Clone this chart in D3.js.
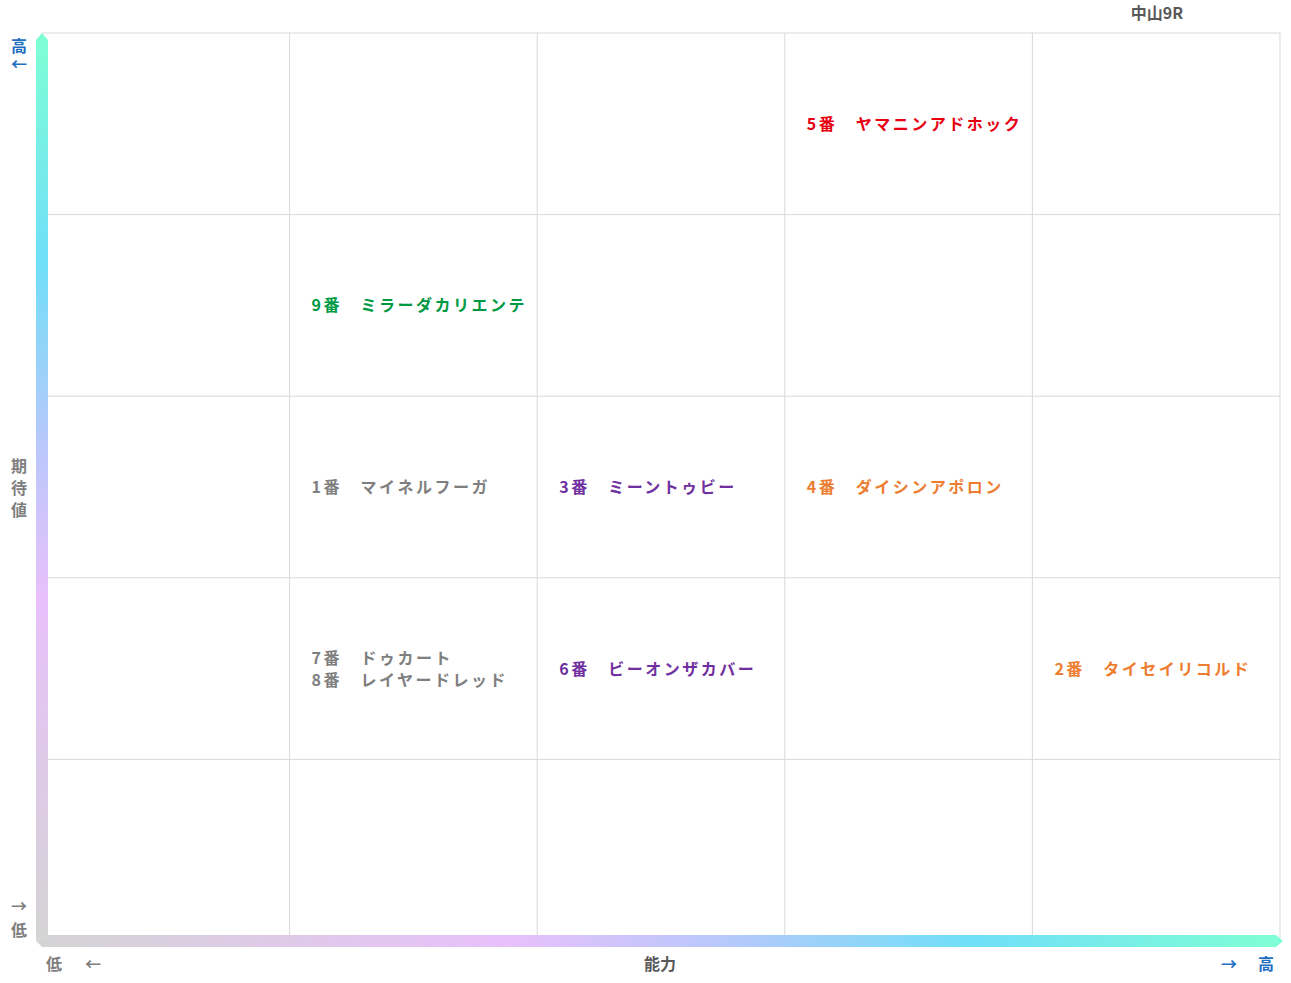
<!DOCTYPE html>
<html><head><meta charset="utf-8">
<script src="https://cdn.jsdelivr.net/npm/d3@7"></script>
<style>body{margin:0;background:#fff;font-family:"Noto Sans CJK JP",sans-serif;}</style>
</head><body><div id="app"></div>
<script>
var cols = [0,1,2,3,4]
    rows = [0,1,2,2,4]
    horses = ['5番　ヤマニンアドホック','9番　ミラーダカリエンテ','1番　マイネルフーガ','3番　ミーントゥビー','4番　ダイシンアポロン','7番　ドゥカート','8番　レイヤードレッド','6番　ビーオンザカバー','2番　タイセイリコルド']
    horseCol = [3,1,1,2,3,1,1,2,4]
    horseRow = [0,1,2,2,2,3,3,3,3]
    horseLine = [0,0,0,0,0,-0.5,0.5,0,0]
    horseColor = ['#e60012','#009944','#7f7f7f','#7030a0','#ed7d31','#7f7f7f','#7f7f7f','#7030a0','#ed7d31'];
rows = [0,1,2,3,4];

var svg = d3.select('#app').append('svg').attr('width',1291).attr('height',983);
var x = d3.scaleBand().domain(cols).range([42,1280]);
var y = d3.scaleBand().domain(rows).range([33,941]);

var defs = svg.append('defs');
var vg = defs.append('linearGradient').attr('id','vg').attr('x1',0).attr('y1',0).attr('x2',0).attr('y2',1);
[['0%','#7fffd4'],['25%','#6fdff8'],['45%','#b8c8fb'],['62%','#e8c0fb'],['100%','#d4d4d4']].forEach(function(s){vg.append('stop').attr('offset',s[0]).attr('stop-color',s[1]);});
var hg = defs.append('linearGradient').attr('id','hg');
[['0%','#d4d4d4'],['38%','#e8c0fb'],['55%','#b8c8fb'],['75%','#6fdff8'],['100%','#7fffd4']].forEach(function(s){hg.append('stop').attr('offset',s[0]).attr('stop-color',s[1]);});

// grid
svg.append('rect').attr('x',42).attr('y',33).attr('width',1238).attr('height',908).attr('fill','none').attr('stroke','#d9d9d9');
cols.slice(1).forEach(function(c){svg.append('line').attr('x1',x(c)).attr('x2',x(c)).attr('y1',33).attr('y2',941).attr('stroke','#d9d9d9');});
rows.slice(1).forEach(function(r){svg.append('line').attr('y1',y(r)).attr('y2',y(r)).attr('x1',42).attr('x2',1280).attr('stroke','#d9d9d9');});

// axis arrows
svg.append('path').attr('d','M36,40 L42,33 L48,40 L48,935 L36,941 Z').attr('fill','url(#vg)');
svg.append('path').attr('d','M36,941 L48,935 L1276,935 L1283,941 L1276,947 L42,947 Z').attr('fill','url(#hg)');

// labels
var t = function(xx,yy,s,c,anchor){return svg.append('text').attr('x',xx).attr('y',yy).text(s).attr('fill',c).attr('font-size',16).attr('font-weight','bold').attr('text-anchor',anchor||'middle');};
t(19,52,'高','#1f6fc0'); t(19,70,'←','#1f6fc0');
t(19,472,'期','#7f7f7f'); t(19,494,'待','#7f7f7f'); t(19,516,'値','#7f7f7f');
t(19,912,'→','#7f7f7f'); t(19,936,'低','#7f7f7f');
t(54,970,'低','#7f7f7f'); t(93,970,'←','#7f7f7f');
t(660,970,'能力','#595959');
t(1229,970,'→','#1f6fc0'); t(1266,970,'高','#1f6fc0');
t(1157,19,'中山9R','#595959');

svg.selectAll('.horse').data(horses).enter().append('text')
  .attr('x',function(d,i){return x(horseCol[i])+22;})
  .attr('y',function(d,i){return y(horseRow[i])+y.bandwidth()/2+6+horseLine[i]*22;})
  .attr('fill',function(d,i){return horseColor[i];})
  .attr('font-size',16).attr('font-weight','bold').attr('letter-spacing',2.5)
  .text(function(d){return d;});
</script></body></html>
